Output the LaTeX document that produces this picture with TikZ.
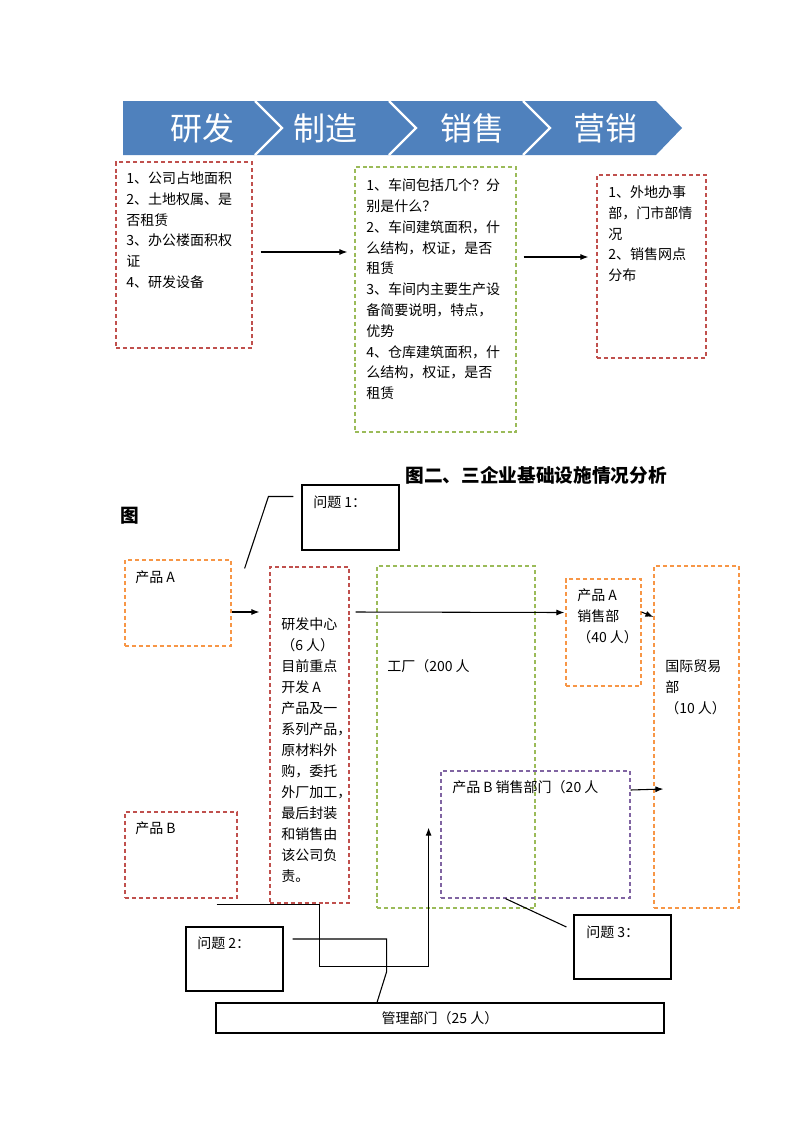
\documentclass[tikz,border=0pt]{standalone}
\usepackage{fontspec}
\setmainfont{Noto Sans CJK SC}
\usepackage{xcolor}
\usetikzlibrary{arrows.meta,fit,positioning}

\definecolor{bannerblue}{RGB}{79,129,189}
\definecolor{boxred}{RGB}{192,80,77}
\definecolor{boxgreen}{RGB}{155,187,89}
\definecolor{boxorange}{RGB}{247,150,70}
\definecolor{boxpurple}{RGB}{128,100,162}

\tikzstyle{dbox} = [line width=0.9pt, dash pattern=on 3pt off 2.2pt, inner sep=0pt]
\tikzstyle{redbox} = [dbox, draw=boxred]
\tikzstyle{greenbox} = [dbox, draw=boxgreen]
\tikzstyle{orangebox} = [dbox, draw=boxorange]
\tikzstyle{purplebox} = [dbox, draw=boxpurple]
\tikzstyle{plainbox} = [draw=black, line width=0.8pt, inner sep=0pt]
\tikzstyle{txt} = [inner sep=0pt, anchor=north west, align=left, font=\fontsize{10.5}{15.6}\selectfont]
\tikzstyle{bantxt} = [text=white, inner sep=0pt, font=\fontsize{24}{28}\selectfont]
\tikzstyle{arrow} = [line width=0.8pt, -{Latex[length=6pt,width=4.5pt]}]
\tikzstyle{link} = [line width=0.8pt]

\begin{document}
\begin{tikzpicture}[x=0.75pt, y=-0.75pt]
        \useasboundingbox (0,0) rectangle (800,1132);

        % Banner
        \fill[bannerblue] (123,101) -- (656,101) -- (682,128) -- (656,155) -- (123,155) -- cycle;
        \foreach \x in {255,389,523}
            \draw[white, line width=1.8pt] (\x,101) -- (\x+27,128) -- (\x,155);
        \foreach \x/\t/\n in {202/研发/rd, 325/制造/zz, 472/销售/xs, 605/营销/yx}
            \node[bantxt] (\n) at (\x,128) {\t};

        % Top boxes
        \node[redbox, fit={(116,162) (252,348)}] (land) {};
        \node[txt] (landtxt) at (126,171.5) {1、公司占地面积\\2、土地权属、是\\否租赁\\3、办公楼面积权\\证\\4、研发设备};
        \node[greenbox, fit={(355,167) (516,432)}] (shop) {};
        \node[txt] (shoptxt) at (366,178.5) {1、车间包括几个？分\\别是什么？\\2、车间建筑面积，什\\么结构，权证，是否\\租赁\\3、车间内主要生产设\\备简要说明，特点，\\优势\\4、仓库建筑面积，什\\么结构，权证，是否\\租赁};
        \node[redbox, fit={(597,175) (706,358)}] (sales) {};
        \node[txt] (salestxt) at (608,185.5) {1、外地办事\\部，门市部情\\况\\2、销售网点\\分布};

        \draw[arrow] ([shift={(8,-3)}]land.east) -- ([shift={(-7,-3)}]land.east -| shop.west);
        \draw[arrow] ([shift={(7,-9.5)}]sales.west -| shop.east) -- ([shift={(-8,-9.5)}]sales.west);

        % Titles
        \node[font=\fontsize{14}{16}\selectfont\bfseries] (title) at (536,475) {图二、三企业基础设施情况分析};
        \node[font=\fontsize{14}{16}\selectfont\bfseries] (fig) at (130,516) {图};

        % Nodes
        \node[plainbox, fit={(302,485) (399,550)}] (q1) {};
        \node[txt] (q1txt) at (313,495.5) {问题 1：};
        \node[orangebox, fit={(125,560) (231,646)}] (prodA) {};
        \node[txt] (prodAtxt) at (135,570.5) {产品 A};
        \node[redbox, fit={(270,567) (349,903)}] (rdc) {};
        \node[txt, font=\fontsize{10.5}{15.75}\selectfont] (rdctxt) at (281,617.5) {研发中心\\（6 人）\\目前重点\\开发 A\\产品及一\\系列产品，\\原材料外\\购，委托\\外厂加工，\\最后封装\\和销售由\\该公司负\\责。};
        \node[greenbox, fit={(377,566) (535,908)}] (plant) {};
        \node[txt] (planttxt) at (387,659.5) {工厂（200 人};
        \node[orangebox, fit={(566,579) (641,686)}] (salesA) {};
        \node[txt] (salesAtxt) at (577,588.5) {产品 A\\销售部\\（40 人）};
        \node[orangebox, fit={(654,566) (739,908)}] (intl) {};
        \node[txt] (intltxt) at (665,659.5) {国际贸易\\部\\（10 人）};
        \node[purplebox, fit={(441,771) (630,898)}] (salesB) {};
        \node[txt] (salesBtxt) at (452,780.5) {产品 B 销售部门（20 人};
        \node[redbox, fit={(125,812) (237,898)}] (prodB) {};
        \node[txt] (prodBtxt) at (135,821.5) {产品 B};
        \node[plainbox, fit={(186,927) (283,991)}] (q2) {};
        \node[txt] (q2txt) at (197,936.5) {问题 2：};
        \node[plainbox, fit={(574,915) (671,979)}] (q3) {};
        \node[txt] (q3txt) at (586,925.5) {问题 3：};
        \node[plainbox, fit={(216,1003) (664,1033)}] (mgmt) {};
        \node[font=\fontsize{10.5}{12}\selectfont, inner sep=0pt] (mgmttxt) at (mgmt.center) {管理部门（25 人）};

        % Arrows
        \draw[link] ([shift={(-8,12)}]q1.north west) -- ++(-25,0) -- ([shift={(13,9)}]prodA.north east);
        \draw[arrow] ([shift={(0,9)}]prodA.east) -- ([shift={(-10,9)}]rdc.west |- prodA.east);
        \draw[arrow] ([shift={(6,-123)}]rdc.east) -- ([shift={(-1,-20)}]salesA.west);
        \draw[arrow] ([shift={(0,-20.5)}]salesA.east) -- ([shift={(0,-120)}]intl.west);
        \draw[arrow] ([shift={(0,-44.5)}]salesB.east) -- ([shift={(10,52)}]intl.west);
        \draw[arrow] ([shift={(-21,6)}]prodB.south east) -- ++(103,0) -- ++(0,62) -- ++(109,0) -- ++(0,-139);
        \draw[link] ([shift={(9,-20)}]q2.east) -- ++(94,0) -- ++(0,33) -- ([shift={(-63,0)}]mgmt.north);
        \draw[link] ([shift={(-30,0)}]salesB.south) -- ([shift={(-7,-20)}]q3.west);
    \end{tikzpicture}
\end{document}
